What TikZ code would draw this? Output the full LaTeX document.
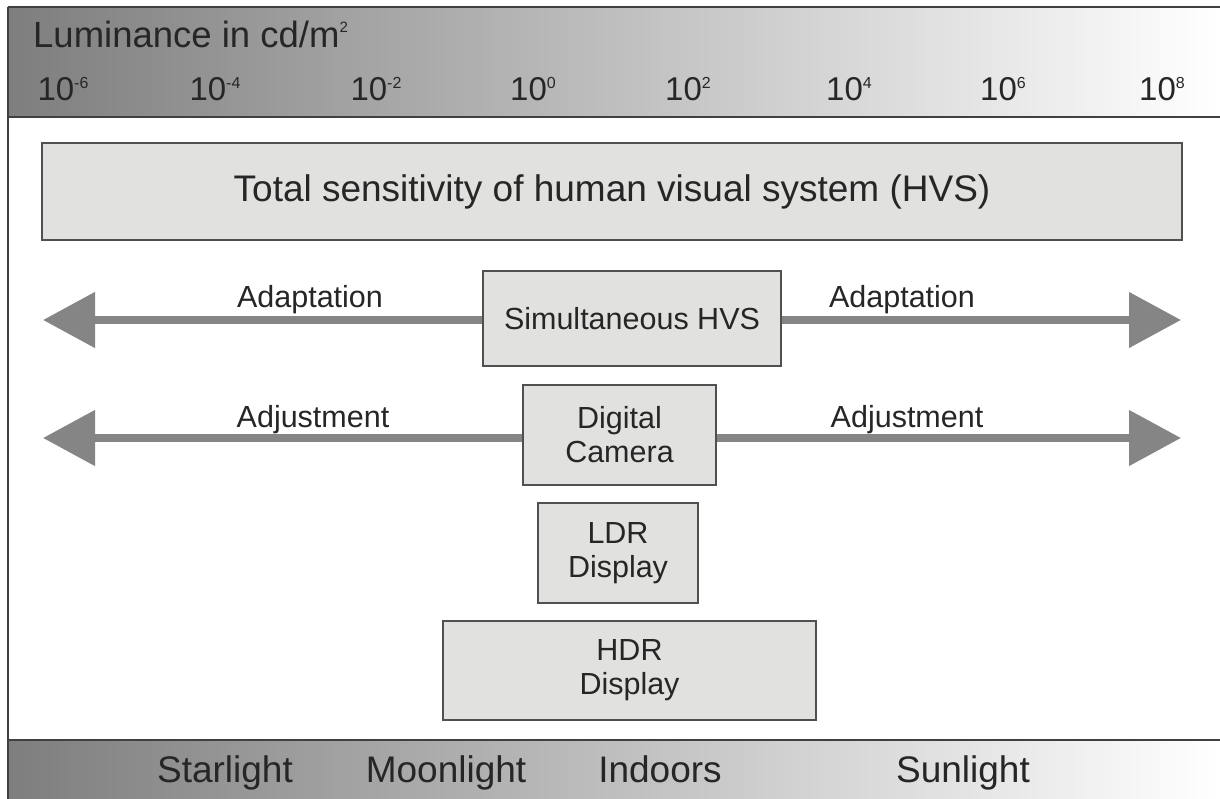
\documentclass[tikz,border=0pt]{standalone}
\usepackage{fontspec}
\setmainfont{Liberation Sans}
\usetikzlibrary{arrows.meta}
\definecolor{boxfill}{HTML}{E1E1DF}
\definecolor{boxline}{HTML}{505050}
\definecolor{txt}{HTML}{262626}
\definecolor{arr}{HTML}{858585}
\definecolor{banddark}{HTML}{7E7E7E}
\newcommand{\pw}[1]{10\raisebox{12pt}{\fontsize{16}{16}\selectfont #1}}
\begin{document}
\begin{tikzpicture}[x=1pt,y=-1pt,
  every node/.style={text=txt},
  boxnode/.style={draw=boxline,line width=1.6pt,fill=boxfill,inner sep=0pt,align=center},
  bigtxt/.style={font=\fontsize{33}{38}\selectfont},
  midtxt/.style={font=\fontsize{30.5}{34}\selectfont},
  lbl/.style={font=\fontsize{30.5}{34}\selectfont},
  bandtxt/.style={font=\fontsize{37}{40}\selectfont},
  shaft/.style={draw=arr,line width=8pt,-{Triangle[length=52pt,width=54pt]},color=arr}]
\useasboundingbox (0,0) rectangle (1220,799);
\fill[white] (0,0) rectangle (1220,799);
% top band
\shade[left color=banddark,right color=white] (8,7) rectangle (1220,117);
\draw[line width=2pt,color=black!75] (8,7) -- (1220,7);
\draw[line width=2.4pt,color=black!75] (8,117) -- (1220,117);
% bottom band
\shade[left color=banddark,right color=white] (8,740) rectangle (1220,799);
\draw[line width=2.4pt,color=black!75] (8,740) -- (1220,740);
% left frame
\draw[line width=2pt,color=black!75] (8,7) -- (8,799);
% top texts
\node[font=\fontsize{36.5}{40}\selectfont,anchor=base west,inner sep=0pt] (lum) at (33,48) {Luminance in cd/m\raisebox{15pt}{\fontsize{15}{15}\selectfont 2}};
\node[bigtxt,anchor=base] (e1) at (63,101) {\pw{-6}};
\node[bigtxt,anchor=base] (e2) at (215,101) {\pw{-4}};
\node[bigtxt,anchor=base] (e3) at (376,101) {\pw{-2}};
\node[bigtxt,anchor=base] (e4) at (533,101) {\pw{0}};
\node[bigtxt,anchor=base] (e5) at (688,101) {\pw{2}};
\node[bigtxt,anchor=base] (e6) at (849,101) {\pw{4}};
\node[bigtxt,anchor=base] (e7) at (1003,101) {\pw{6}};
\node[bigtxt,anchor=base] (e8) at (1162,101) {\pw{8}};
% total box
\node[boxnode,minimum width=1140pt,minimum height=97pt,font=\fontsize{37}{40}\selectfont] (tot) at (612,191.5) {Total sensitivity of human visual system (HVS)};
% simultaneous
\node[boxnode,minimum width=298pt,minimum height=95pt,midtxt] (sim) at (632,318.5) {Simultaneous HVS};
\coordinate (aL1) at (43,320);
\coordinate (aR1) at (1181,320);
\draw[shaft] (sim.west |- aL1) -- (aL1);
\draw[shaft] (sim.east |- aR1) -- (aR1);
\node[lbl,anchor=base] (ad1) at (310,308) {Adaptation};
\node[lbl,anchor=base] (ad2) at (902,308) {Adaptation};
% digital camera
\node[boxnode,minimum width=193pt,minimum height=100pt,midtxt] (cam) at (619.5,435) {Digital\\Camera};
\coordinate (aL2) at (43,438);
\coordinate (aR2) at (1181,438);
\draw[shaft] (cam.west |- aL2) -- (aL2);
\draw[shaft] (cam.east |- aR2) -- (aR2);
\node[lbl,anchor=base] (aj1) at (313,427) {Adjustment};
\node[lbl,anchor=base] (aj2) at (907,427) {Adjustment};
% LDR
\node[boxnode,minimum width=160pt,minimum height=100pt,midtxt] (ldr) at (618,553) {LDR\\Display};
% HDR
\node[boxnode,minimum width=373pt,minimum height=99pt,midtxt] (hdr) at (629.5,670.5) {HDR\\Display};
% bottom labels
\node[bandtxt,anchor=base] (s1) at (225,782) {Starlight};
\node[bandtxt,anchor=base] (s2) at (446,782) {Moonlight};
\node[bandtxt,anchor=base] (s3) at (660,782) {Indoors};
\node[bandtxt,anchor=base] (s4) at (963,782) {Sunlight};
\end{tikzpicture}
\end{document}
